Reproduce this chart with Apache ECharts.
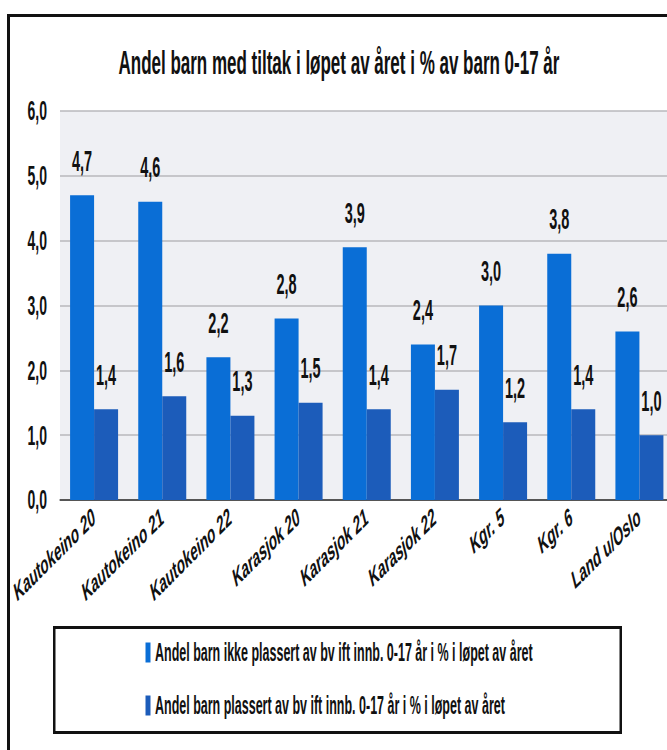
<!DOCTYPE html>
<html><head><meta charset="utf-8">
<script src="https://cdn.jsdelivr.net/npm/echarts@6/dist/echarts.min.js"></script>
<style>
html,body{margin:0;padding:0;background:#fff;overflow:hidden;width:667px;height:750px}
#wrap{width:667px;height:750px;overflow:hidden;position:relative;background:#fff}
#c{position:absolute;left:0;top:0;width:1360px;height:750px;transform:scaleX(0.5);transform-origin:0 0}
</style></head><body><div id="wrap"><div id="c"></div></div>
<script>
const titleText = 'Andel barn med tiltak i løpet av året i % av barn 0-17 år';
const categories = ['Kautokeino 20','Kautokeino 21','Kautokeino 22','Karasjok 20','Karasjok 21','Karasjok 22','Kgr. 5','Kgr. 6','Land u/Oslo'];
const seriesNames = ['Andel barn ikke plassert av bv ift innb. 0-17 år i % i løpet av året','Andel barn plassert av bv ift innb. 0-17 år i % i løpet av året'];
const ikkePlassert = [4.7,4.6,2.2,2.8,3.9,2.4,3.0,3.8,2.6];
const plassert = [1.4,1.6,1.3,1.5,1.4,1.7,1.2,1.4,1.0];
const yMin = 0, yMax = 6, yStep = 1;

const FONT = "'Liberation Sans', Arial, sans-serif";
const fmt = v => Number(v).toFixed(1).replace('.', ',');
const chart = echarts.init(document.getElementById('c'), null, {renderer:'svg'});
const labelCfg = {show:true, position:'top', distance:20, formatter:p=>fmt(p.value), color:'#111', fontFamily:FONT, fontWeight:'bold', fontSize:29};
chart.setOption({
  animation:false,
  backgroundColor:'#fff',
  title:{text:titleText, left:232, top:41, textStyle:{fontFamily:FONT, fontWeight:'bold', fontSize:34, color:'#111'}},
  grid:{left:120, right:13, top:111, bottom:250, outerBoundsMode:'none', show:true, backgroundColor:'#eff0f4', borderWidth:0},
  legend:{orient:'vertical', left:286, top:635, itemWidth:10, itemHeight:20, itemGap:28, icon:'rect',
    textStyle:{fontFamily:FONT, fontWeight:'bold', fontSize:25, color:'#111', padding:[0,0,0,4]}, data:seriesNames},
  xAxis:{type:'category', data:categories,
    axisLine:{show:true, lineStyle:{color:'#555', width:2}}, axisTick:{show:false},
    axisLabel:{rotate:26.6, margin:14, interval:0, color:'#111', fontFamily:FONT, fontWeight:'bold', fontSize:26},
    splitLine:{show:false}},
  yAxis:{type:'value', min:yMin, max:yMax, interval:yStep,
    axisLine:{show:false}, axisTick:{show:false},
    axisLabel:{formatter:v=>fmt(v), margin:26, color:'#111', fontFamily:FONT, fontWeight:'bold', fontSize:28},
    splitLine:{show:true, lineStyle:{color:'#b9b9bd', width:1.5}}},
  series:[
    {name:seriesNames[0], type:'bar', data:ikkePlassert, barWidth:48, barGap:'0%', itemStyle:{color:'#0a6ed6'}, label:labelCfg},
    {name:seriesNames[1], type:'bar', data:plassert, barWidth:48, barGap:'0%', itemStyle:{color:'#1c5cba'}, label:labelCfg}
  ],
  graphic:[
    {type:'rect', silent:true, shape:{x:14, y:14, width:6, height:800}, style:{fill:'#111'}},
    {type:'rect', silent:true, shape:{x:14, y:14, width:1400, height:3}, style:{fill:'#111'}},
    {type:'rect', silent:true, shape:{x:106, y:626, width:1138, height:3}, style:{fill:'#111'}},
    {type:'rect', silent:true, shape:{x:106, y:731, width:1138, height:3}, style:{fill:'#111'}},
    {type:'rect', silent:true, shape:{x:106, y:626, width:5, height:108}, style:{fill:'#111'}},
    {type:'rect', silent:true, shape:{x:1239, y:626, width:5, height:108}, style:{fill:'#111'}}
  ]
});
</script></body></html>
